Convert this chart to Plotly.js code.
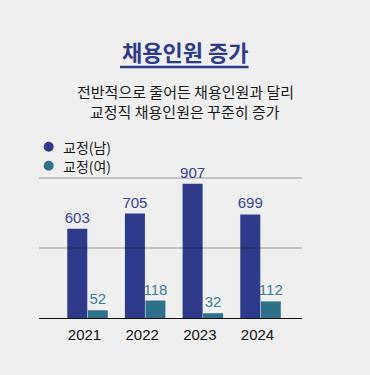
<!DOCTYPE html>
<html>
<head>
<meta charset="utf-8">
<script src="https://cdn.plot.ly/plotly-3.0.1.min.js"></script>
<style>
html,body{margin:0;padding:0;background:#efefef;}
#chart{width:370px;height:375px;}
</style>
</head>
<body>
<div id="chart"></div>
<script>
const years = ['2021', '2022', '2023', '2024'];
const maleName = '교정(남)';
const femaleName = '교정(여)';
const maleValues = [603, 705, 907, 699];
const femaleValues = [52, 118, 32, 112];
const titleText = '채용인원 증가';
const subtitleLines = ['전반적으로 줄어든 채용인원과 달리', '교정직 채용인원은 꾸준히 증가'];

const navy = '#2e3a8a';
const teal = '#2e6f8a';
const kr = '"Noto Sans CJK KR", "Noto Sans", sans-serif';
const num = '"Liberation Sans", Arial, sans-serif';

// pixel helpers for paper coordinates (plot area: x 39..302, y 178..318)
const L = 39, R = 302, T = 178, B = 318;
const px = x => (x - L) / (R - L);
const py = y => (B - y) / (B - T);

const traces = [
  {
    type: 'bar', name: maleName, x: years, y: maleValues,
    marker: {color: navy},
    texttemplate: '%{y}', textposition: 'outside', constraintext: 'none',
    textfont: {family: num, size: 15, color: '#34449a'},
    cliponaxis: false, showlegend: false, hoverinfo: 'none'
  },
  {
    type: 'bar', name: femaleName, x: years, y: femaleValues,
    marker: {color: teal},
    texttemplate: '%{y}', textposition: 'outside', constraintext: 'none',
    textfont: {family: num, size: 15, color: '#3b7d99'},
    cliponaxis: false, showlegend: false, hoverinfo: 'none'
  }
];

const layout = {
  width: 370, height: 375,
  paper_bgcolor: '#efefef', plot_bgcolor: '#efefef',
  margin: {l: L, r: 370 - R, t: T, b: 375 - B, pad: 0},
  barmode: 'group', bargap: 0.289, bargroupgap: 0.025,
  showlegend: false,
  xaxis: {
    type: 'category', range: [-0.841, 3.719],
    showgrid: false, zeroline: false,
    showline: true, linecolor: '#111', linewidth: 1.2,
    ticks: '', ticklabelshift: -3, ticklabelstandoff: 3,
    tickfont: {family: num, size: 15, color: '#111'},
    layer: 'above traces', fixedrange: true
  },
  yaxis: {
    range: [0, 945], showgrid: false, zeroline: false,
    showticklabels: false, ticks: '', fixedrange: true
  },
  shapes: [
    {type: 'line', xref: 'paper', yref: 'paper', x0: 0, x1: 1, y0: 0.5, y1: 0.5,
     line: {color: 'rgba(0,0,0,0.36)', width: 1}, layer: 'above'},
    {type: 'line', xref: 'paper', yref: 'paper', x0: 0, x1: 1, y0: 1, y1: 1,
     line: {color: 'rgba(0,0,0,0.36)', width: 1}, layer: 'above'},
    // title underline
    {type: 'line', xref: 'paper', yref: 'paper', x0: px(120), x1: px(248.5), y0: py(67), y1: py(67),
     line: {color: navy, width: 2.5}},
    // legend dots
    {type: 'circle', xref: 'paper', yref: 'paper', xsizemode: 'pixel', ysizemode: 'pixel',
     xanchor: px(48.7), yanchor: py(146.7), x0: -5, x1: 5, y0: -5, y1: 5,
     fillcolor: navy, line: {width: 0}},
    {type: 'circle', xref: 'paper', yref: 'paper', xsizemode: 'pixel', ysizemode: 'pixel',
     xanchor: px(48.7), yanchor: py(165.7), x0: -5, x1: 5, y0: -5, y1: 5,
     fillcolor: teal, line: {width: 0}}
  ],
  annotations: [
    {text: '<b>' + titleText + '</b>', xref: 'paper', yref: 'paper', x: px(184.5), y: py(51),
     xanchor: 'center', yanchor: 'middle', showarrow: false,
     font: {family: kr, size: 22, color: navy}},
    {text: subtitleLines[0], xref: 'paper', yref: 'paper', x: px(185), y: py(91.5),
     xanchor: 'center', yanchor: 'middle', showarrow: false, borderpad: 0,
     font: {family: kr, size: 15, color: '#1a1a1a'}},
    {text: subtitleLines[1], xref: 'paper', yref: 'paper', x: px(185), y: py(111.2),
     xanchor: 'center', yanchor: 'middle', showarrow: false, borderpad: 0,
     font: {family: kr, size: 15, color: '#1a1a1a'}},
    {text: maleName, xref: 'paper', yref: 'paper', x: px(61), y: py(146.7),
     xanchor: 'left', yanchor: 'middle', showarrow: false,
     font: {family: kr, size: 14, color: '#1a1a1a'}},
    {text: femaleName, xref: 'paper', yref: 'paper', x: px(61), y: py(165.7),
     xanchor: 'left', yanchor: 'middle', showarrow: false,
     font: {family: kr, size: 14, color: '#1a1a1a'}}
  ]
};

Plotly.newPlot('chart', traces, layout, {displayModeBar: false, staticPlot: true});
</script>
</body>
</html>
